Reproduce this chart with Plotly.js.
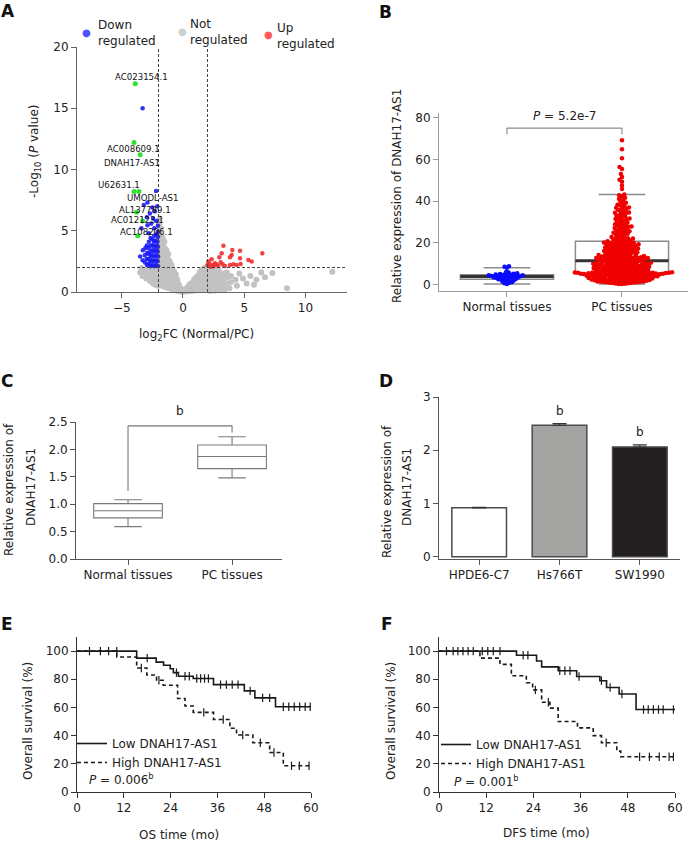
<!DOCTYPE html>
<html><head><meta charset="utf-8">
<script src="https://cdn.plot.ly/plotly-3.0.1.min.js"></script>
<style>html,body{margin:0;padding:0;background:#fff}#chart{width:700px;height:848px}</style>
</head><body><div id="chart"></div>
<script>
// ================= DATA =================
// Panel A: volcano plot (log2FC, -log10 P)
const greyX = [-3.5,-3.4,-3.3,-3.2,-3.1,-3.0,-2.9,-2.8,-2.75,-2.7,-2.6,-2.55,-2.5,-2.45,-2.4,-2.35,-2.3,-2.25,-2.2,-2.15,-2.1,-2.05,-2.05,
 -1.95,-1.92,-1.97,-1.94,-1.96,-1.93,-1.95,-1.91,-1.94,-1.9,
 -1.82,-1.8,-1.84,-1.81,-1.83,-1.79,-1.82,-1.78,-1.8,
 -1.68,-1.66,-1.7,-1.67,-1.65,-1.69,-1.64,-1.66,
 -1.53,-1.51,-1.55,-1.52,-1.5,-1.54,-1.49,-1.52,
 -1.38,-1.36,-1.4,-1.37,-1.35,-1.39,-1.36,
 -1.22,-1.2,-1.24,-1.21,-1.19,-1.23,-1.2,
 -1.07,-1.05,-1.09,-1.06,-1.04,-1.08,
 -0.92,-0.9,-0.94,-0.91,-0.89,-0.93,
 -0.77,-0.75,-0.79,-0.76,-0.74,
 -0.62,-0.6,-0.64,-0.61,-0.59,
 -0.47,-0.45,-0.49,-0.46,
 -0.32,-0.3,-0.34,
 -0.17,-0.15,
 0.0,
 0.15,0.17,0.3,0.32,0.45,0.43,0.47,0.6,0.62,0.58,0.75,0.73,0.77,0.9,0.92,0.88,0.91,1.05,1.03,1.07,1.04,1.2,1.22,1.18,1.21,1.35,1.33,1.37,1.34,1.36,1.5,1.52,1.48,1.51,1.49,1.65,1.63,1.67,1.64,1.66,1.8,1.82,1.78,1.81,1.79,1.95,1.93,1.97,1.94,1.96,
 2.1,2.12,2.08,2.11,2.09,2.3,2.32,2.28,2.31,2.29,2.5,2.52,2.48,2.51,2.7,2.72,2.68,2.71,2.9,2.92,2.88,2.91,3.1,3.12,3.08,3.35,3.37,3.33,3.6,3.62,3.58,3.9,3.92,2.2,2.6,3.0,3.4,3.8,
 4.3,4.6,4.9,5.2,5.5,6.0,6.4,6.7,7.3,8.5,12.2,4.4,5.8];
const greyY = [1.6,1.95,1.3,1.8,1.45,1.1,1.5,1.9,1.6,0.9,1.3,1.95,1.7,0.7,1.0,1.5,1.9,0.6,0.85,1.2,1.6,1.95,0.5,
 0.7,1.3,1.9,2.5,3.1,3.7,4.3,4.9,5.5,6.0,
 0.55,1.1,1.65,2.2,2.8,3.4,4.0,4.6,5.2,
 0.5,1.0,1.5,2.05,2.6,3.2,3.8,4.4,
 0.42,0.92,1.4,1.9,2.45,3.0,3.6,4.1,
 0.38,0.85,1.3,1.8,2.3,2.85,3.4,
 0.33,0.78,1.25,1.7,2.2,2.7,3.1,
 0.3,0.7,1.12,1.55,2.0,2.5,
 0.25,0.64,1.05,1.45,1.9,2.2,
 0.2,0.56,0.92,1.3,1.7,
 0.15,0.5,0.85,1.2,1.45,
 0.1,0.4,0.7,1.0,
 0.08,0.35,0.62,
 0.05,0.26,
 0.03,
 0.05,0.2,0.06,0.32,0.07,0.3,0.52,0.1,0.36,0.65,0.1,0.42,0.76,0.12,0.46,0.8,1.02,0.15,0.5,0.86,1.16,0.16,0.52,0.9,1.3,0.2,0.56,0.95,1.35,1.6,0.22,0.6,1.0,1.44,1.8,0.25,0.62,1.02,1.42,1.86,0.26,0.66,1.06,1.5,1.95,0.3,0.7,1.1,1.55,1.96,
 0.3,0.7,1.1,1.5,1.9,0.35,0.75,1.15,1.6,1.92,0.4,0.8,1.2,1.7,0.45,0.85,1.3,1.75,0.5,0.95,1.4,1.8,0.55,1.0,1.45,0.6,1.1,1.5,0.7,1.2,1.6,0.8,1.3,0.08,0.1,0.15,0.2,0.3,
 1.0,1.5,1.1,0.7,1.3,1.0,1.6,1.2,1.55,0.3,1.65,0.5,0.6];
const downX = [-2.2,-2.9,-3.2,-2.5,-2.95,-2.45,-2.9,-2.15,-3.3,-2.7,-2.3,-3.4,-2.6,-2.05,-2.35,-2.1,-2.8,
 -2.04,-2.07,-2.03,-2.06,-2.05,-2.08,-2.04,-2.06,
 -2.2,-2.22,-2.18,-2.21,-2.19,-2.23,-2.2,
 -2.35,-2.37,-2.33,-2.36,-2.34,-2.38,-2.35,
 -2.5,-2.52,-2.48,-2.51,-2.49,-2.5,
 -2.65,-2.67,-2.63,-2.66,-2.64,-2.65,
 -2.8,-2.82,-2.78,-2.81,-2.79,
 -2.95,-2.97,-2.93,-2.96,
 -3.1,-3.12,-3.08,
 -3.3,-3.28,
 -3.5];
const downY = [8.25,7.3,7.1,6.9,6.1,6.0,5.45,5.8,15.0,6.4,6.6,5.2,5.6,5.4,5.2,7.0,4.8,
 2.1,2.5,2.9,3.3,3.7,4.1,4.5,4.9,
 2.2,2.6,3.0,3.4,3.8,4.2,4.7,
 2.1,2.5,2.9,3.3,3.7,4.1,4.6,
 2.2,2.6,3.0,3.4,3.8,4.3,
 2.1,2.5,2.9,3.3,3.8,4.4,
 2.3,2.7,3.1,3.6,4.1,
 2.2,2.7,3.2,3.8,
 2.4,3.0,3.6,
 2.6,3.4,
 2.9];
const upX = [3.3,4.03,4.66,6.48,3.16,3.98,3.84,2.97,4.66,5.34,5.61,2.34,2.07,2.61,3.08,3.24,2.2,2.48,2.75,3.84,4.11,4.71,4.39,2.0,2.88,3.43,2.29,2.5];
const upY = [3.78,3.43,3.37,3.16,3.16,3.02,2.83,2.83,2.75,2.61,2.48,2.67,2.48,2.34,2.42,2.26,2.26,2.2,2.25,2.2,2.26,2.28,2.2,2.2,2.12,2.12,2.06,2.1];
const geneNames = ['AC023154.1','AC008609.1','DNAH17-AS1','U62631.1','UMODL-AS1','AL137789.1','AC012123.1','AC108206.1'];
const geneX = [-3.9,-4.0,-3.5,-4.0,-3.6,-3.8,-3.3,-3.7];
const geneY = [17.0,12.2,11.2,8.2,8.2,6.5,5.8,4.6];
const fcCut = 2, pCut = 2;

// Panel B: expression in tissues
const bCats = ['Normal tissues','PC tissues'];
const normalTissue = [8.9,8.6,8.1,6.2,5.8,5.5,5.3,5.1,5.0,4.9,4.8,4.7,4.6,4.5,4.5,4.4,4.3,4.2,4.1,4.0,3.9,3.8,3.7,3.6,3.5,3.4,3.3,3.1,3.0,2.8,2.6,2.5,2.4,2.2,2.0,1.8,1.5,1.2,1.0,0.7,0.4];
const pcTissue = [
 0.3,0.4,0.5,0.6,0.7,0.8,0.9,1.0,1.1,1.2,1.3,1.4,1.5,1.5,1.6,1.7,1.8,1.9,2.0,2.1,
 2.1,2.2,2.3,2.4,2.5,2.5,2.6,2.7,2.8,2.9,2.9,3.0,3.1,3.2,3.2,3.3,3.4,3.5,3.5,3.6,
 3.7,3.7,3.8,3.9,3.9,4.0,4.1,4.1,4.2,4.3,4.3,4.4,4.5,4.5,4.6,4.6,4.7,4.8,4.8,4.9,
 4.9,5.0,5.0,5.1,5.1,5.2,5.2,5.3,5.3,5.4,5.4,5.5,5.5,1.9,2.7,3.4,4.0,4.7,2.3,1.2,
 5.6,5.6,5.7,5.7,5.8,5.8,5.9,5.6,5.7,5.8,5.9,6.0,6.0,6.1,6.2,6.3,6.4,6.5,6.5,6.6,
 6.7,6.8,6.9,7.0,7.0,7.1,7.2,7.3,7.4,7.5,7.5,7.6,7.7,7.8,7.9,8.0,8.0,8.1,8.2,8.3,
 8.4,8.5,8.5,8.6,8.7,8.8,8.9,9.0,9.0,9.1,9.2,9.3,9.4,9.5,9.5,9.6,9.7,9.8,9.9,10.0,
 10.0,10.1,10.2,10.3,10.4,10.5,10.5,10.6,10.7,10.8,10.9,11.0,6.3,8.2,9.6,
 11.1,11.2,11.3,11.4,11.5,11.6,11.7,11.8,11.9,12.0,12.1,12.2,12.3,12.4,12.5,12.6,12.7,12.8,12.9,13.0,
 13.1,13.2,13.3,13.4,13.5,13.6,13.7,13.8,13.9,14.0,14.2,14.4,14.5,14.6,14.8,15.0,15.1,15.2,15.4,15.5,
 15.6,15.8,16.0,16.1,16.2,16.4,16.5,16.6,16.8,17.0,17.1,17.2,17.4,17.5,17.6,17.8,18.0,18.1,18.2,18.4,
 18.5,18.6,18.8,19.0,19.1,19.2,19.4,19.5,19.6,19.8,20.0,20.1,20.2,20.4,20.5,20.6,11.5,12.2,12.8,13.5,
 14.1,15.3,16.7,18.3,19.7,
 20.8,21.0,21.2,21.5,21.7,21.9,22.1,22.3,22.6,22.9,23.2,23.5,23.8,24.1,24.4,24.7,25.0,25.3,25.6,25.9,
 26.2,26.5,26.8,27.1,27.4,27.7,28.0,28.3,28.6,28.9,29.2,29.5,29.8,22.0,24.9,27.9,
 30.2,30.6,31.0,31.3,31.7,32.0,32.4,32.8,33.1,33.5,33.9,34.2,34.6,35.0,35.4,35.8,36.2,36.6,37.0,37.4,
 37.9,38.3,38.8,39.2,39.7,31.5,34.4,36.9,
 40.4,41.0,41.6,42.2,42.8,43.2,
 45.8,47.5,49.3,50.2,51.6,53.0,55.4,56.3,60.6,64.9,69.2];
const bPText = '<i>P</i> = 5.2e-7';
const bBracketLow = 72, bBracketTop = 75;

// Panel C: box summary
const cCats = ['Normal tissues','PC tissues'];
const cLow = [0.59,1.48], cQ1 = [0.75,1.65], cMed = [0.88,1.87], cQ3 = [1.01,2.08], cHigh = [1.08,2.23];
const cBracket = {left:1.24, top:2.43, right:2.31, label:'b'};

// Panel D: cell lines
const dCats = ['HPDE6-C7','Hs766T','SW1990'];
const dVals = [0.92,2.47,2.06];
const dErr = [0.01,0.03,0.04];
const dSig = ['','b','b'];
const dColors = ['#ffffff','#a3a3a1','#231f20'];

// Panel E: OS Kaplan-Meier
const eLowT = [0,15.3,20.3,22.2,23.9,24.7,26.0,29.8,35.0,42.9,45.6,50.9,60];
const eLowS = [100,95,92.2,89.9,87.5,84.7,82.1,80.5,76.2,71.8,66.8,60.5,60.5];
const eHighT = [0,10.2,15.3,17.9,20.4,22.1,25.8,27.7,29.8,35.0,39.2,40.9,45.1,49.4,52.9,60];
const eHighS = [100,95.8,88,83,79.3,75.8,66.4,61,56.5,51.5,45.2,40.5,35,28,18.6,18.6];
const eLowCens = [3.2,6.0,8.1,10.2,18.0,25.5,27.7,28.8,30.7,31.7,32.7,33.7,36.8,38.3,39.8,41.3,44.4,47.6,49.4,52.9,54.3,55.7,57.1,58.5,59.8];
const eHighCens = [16.5,21.0,32.5,37.5,42.5,47.0,50.5,55.0,57.0,59.5];
const eP = '<i>P</i> = 0.006<sup>b</sup>';

// Panel F: DFS Kaplan-Meier
const fLowT = [0,19.7,24.8,26.1,30.3,35.0,40.9,42.6,45.8,50.1,60];
const fLowS = [100,97,93,88.8,86,82,79,74.2,69.6,58.5,58.5];
const fHighT = [0,10.4,15.5,18.4,22.2,23.8,26.1,28.2,30.3,35.2,39.2,41.3,45.2,46.2,60];
const fHighS = [100,95,90.6,82.5,77.5,72.5,63.7,59.5,50,45.5,40,35,29,25,25];
const fLowCens = [1.9,3.6,4.8,6.1,7.4,8.7,11.0,12.4,13.8,15.5,21.4,22.6,30.7,32.0,33.3,35.6,41.3,43.5,46.5,52.0,53.2,54.5,55.8,57.0,59.6];
const fHighCens = [24.5,27.8,42.5,51.0,53.5,56.0,58.5,59.6];
const fP = '<i>P</i> = 0.001<sup>b</sup>';

// ================= LAYOUT HELPERS =================
const W = 700, H = 848;
const FONT = '"DejaVu Sans", Verdana, sans-serif';
const px = v => v / W, py = v => 1 - v / H;
const dom = (x0, x1, y0, y1) => ({x: [px(x0), px(x1)], y: [py(y1), py(y0)], w: x1 - x0, h: y1 - y0});
const DA = dom(77, 347, 47, 292), DB = dom(439, 688, 113, 291), DC = dom(76, 282, 422, 559),
      DD = dom(439, 680, 397, 559), DE = dom(77, 311, 637, 792), DF = dom(439, 675, 637, 792);
const bXRange = [-0.591, 1.574], bYRange = [-3, 82.2];
const tickFont = {family: FONT, size: 12, color: '#222'};
function axis(extra, col) {
  col = col || '#555';
  return Object.assign({showgrid: false, zeroline: false, showline: true, linecolor: col, linewidth: 1,
    ticks: 'outside', ticklen: 5, tickcolor: col, tickwidth: 1, tickfont: tickFont, fixedrange: true}, extra);
}
function survAt(ts, ss, t) { let s = ss[0]; for (let i = 0; i < ts.length; i++) if (ts[i] <= t) s = ss[i]; return s; }
function median(arr) { const s = arr.slice().sort((a, b) => a - b); const n = s.length; return n % 2 ? s[(n - 1) / 2] : (s[n / 2 - 1] + s[n / 2]) / 2; }
// beeswarm layout: horizontal offsets (in axis units) so that dot centres stay at least d px apart
function swarmOffsets(values, d, pxPerX, pxPerY) {
  const order = values.map((v, i) => i).sort((a, b) => values[a] - values[b]);
  const placed = [], offs = new Array(values.length);
  order.forEach(i => {
    const y = values[i] * pxPerY, forb = [];
    placed.forEach(p => { const dy = Math.abs(p.y - y); if (dy < d) { const w = Math.sqrt(d * d - dy * dy); forb.push([p.x - w, p.x + w]); } });
    const cands = [0]; forb.forEach(f => cands.push(f[0], f[1]));
    cands.sort((a, b) => Math.abs(a) - Math.abs(b));
    let best = 0;
    for (const c of cands) { if (forb.every(f => c <= f[0] + 1e-6 || c >= f[1] - 1e-6)) { best = c; break; } }
    placed.push({x: best, y: y});
    offs[i] = best / pxPerX;
  });
  return offs;
}

// ================= TRACES =================
const traces = [];
const transparent = 'rgba(0,0,0,0)';
// A
traces.push({type: 'scatter', mode: 'markers', x: greyX, y: greyY, xaxis: 'x', yaxis: 'y', cliponaxis: false,
  marker: {size: 6, color: '#c2c2c2'}, showlegend: false, hoverinfo: 'skip'});
traces.push({type: 'scatter', mode: 'markers', x: downX, y: downY, xaxis: 'x', yaxis: 'y',
  marker: {size: 4.5, color: 'rgba(25,25,245,0.9)'}, showlegend: false, hoverinfo: 'skip'});
traces.push({type: 'scatter', mode: 'markers', x: upX, y: upY, xaxis: 'x', yaxis: 'y',
  marker: {size: 4.5, color: 'rgba(238,45,45,0.9)'}, showlegend: false, hoverinfo: 'skip'});
traces.push({type: 'scatter', mode: 'markers', x: geneX, y: geneY, xaxis: 'x', yaxis: 'y',
  marker: {size: 5, color: '#2fe02f'}, showlegend: false, hoverinfo: 'skip'});

// B
const boxB = (vals, pos) => ({type: 'box', x: vals.map(() => pos), y: vals, xaxis: 'x2', yaxis: 'y2',
  boxpoints: 'outliers', marker: {color: transparent, size: 1}, width: 0.81, whiskerwidth: 0.5,
  line: {color: '#8c8c8c', width: 1.5}, fillcolor: transparent, showlegend: false, hoverinfo: 'skip'});
traces.push(boxB(normalTissue, 0));
traces.push(boxB(pcTissue, 1));
const bMeds = [median(normalTissue), median(pcTissue)];
traces.push({type: 'box', x: [0, 1], q1: bMeds, median: bMeds, q3: bMeds, lowerfence: bMeds, upperfence: bMeds,
  xaxis: 'x2', yaxis: 'y2', width: 0.81, whiskerwidth: 0, boxpoints: false, line: {color: '#333', width: 3}, fillcolor: transparent, showlegend: false, hoverinfo: 'skip'});
const bPxX = DB.w / (bXRange[1] - bXRange[0]), bPxY = DB.h / (bYRange[1] - bYRange[0]);
const nOff = swarmOffsets(normalTissue, 2.6, bPxX, bPxY);
const pOff = swarmOffsets(pcTissue, 3.1, bPxX, bPxY);
traces.push({type: 'scatter', mode: 'markers', x: nOff.map(o => 0 + o), y: normalTissue, xaxis: 'x2', yaxis: 'y2', cliponaxis: false,
  marker: {size: 4.5, color: '#0a0aff'}, showlegend: false, hoverinfo: 'skip'});
traces.push({type: 'scatter', mode: 'markers', x: pOff.map(o => 1 + o), y: pcTissue, xaxis: 'x2', yaxis: 'y2', cliponaxis: false,
  marker: {size: 4.5, color: '#f00000'}, showlegend: false, hoverinfo: 'skip'});

// C
traces.push({type: 'box', x: cCats, q1: cQ1, median: cMed, q3: cQ3, lowerfence: cLow, upperfence: cHigh,
  xaxis: 'x3', yaxis: 'y3', width: 0.66, whiskerwidth: 0.4, boxpoints: false,
  line: {color: '#7a7a7a', width: 1.1}, fillcolor: transparent, showlegend: false, hoverinfo: 'skip'});

// D
traces.push({type: 'bar', x: dCats, y: dVals, xaxis: 'x4', yaxis: 'y4', width: 0.68,
  marker: {color: dColors, line: {color: '#4a4a4a', width: 1.5}},
  error_y: {type: 'data', symmetric: false, array: dErr, arrayminus: dErr.map(() => 0), color: '#333', thickness: 1.2, width: 7},
  showlegend: false, hoverinfo: 'skip'});

// E, F
function km(t, s, xa, ya, name, dash, leg) {
  return {type: 'scatter', mode: 'lines', x: t, y: s, xaxis: xa, yaxis: ya, name: name, legend: leg,
    line: {shape: 'hv', color: '#1a1a1a', width: 1.6, dash: dash}, showlegend: true, hoverinfo: 'skip'};
}
function cens(c, t, s, xa, ya) {
  return {type: 'scatter', mode: 'markers', x: c, y: c.map(v => survAt(t, s, v)), xaxis: xa, yaxis: ya, cliponaxis: false,
    marker: {symbol: 'line-ns-open', size: 6, color: '#1a1a1a', line: {color: '#1a1a1a', width: 1.2}}, showlegend: false, hoverinfo: 'skip'};
}
traces.push(km(eLowT, eLowS, 'x5', 'y5', 'Low DNAH17-AS1', 'solid', 'legend2'));
traces.push(km(eHighT, eHighS, 'x5', 'y5', 'High DNAH17-AS1', '4px,3px', 'legend2'));
traces.push(cens(eLowCens, eLowT, eLowS, 'x5', 'y5'));
traces.push(cens(eHighCens, eHighT, eHighS, 'x5', 'y5'));
traces.push(km(fLowT, fLowS, 'x6', 'y6', 'Low DNAH17-AS1', 'solid', 'legend3'));
traces.push(km(fHighT, fHighS, 'x6', 'y6', 'High DNAH17-AS1', '4px,3px', 'legend3'));
traces.push(cens(fLowCens, fLowT, fLowS, 'x6', 'y6'));
traces.push(cens(fHighCens, fHighT, fHighS, 'x6', 'y6'));

// ================= ANNOTATIONS & SHAPES =================
const ann = [];
const txt = (text, x, y, opt) => Object.assign({text: text, x: px(x), y: py(y), xref: 'paper', yref: 'paper', showarrow: false,
  xanchor: 'center', yanchor: 'middle', font: {family: FONT, size: 12, color: '#222'}}, opt || {});
// panel letters
[['A', 7.5, 11], ['B', 386, 12], ['C', 6.5, 381], ['D', 386, 381], ['E', 7, 624], ['F', 386.5, 624]].forEach(l =>
  ann.push(txt('<b>' + l[0] + '</b>', l[1], l[2], {font: {family: FONT, size: 17, color: '#111'}})));
// A legend
ann.push(txt('●', 86, 33, {font: {family: FONT, size: 10, color: '#5050ff'}}));
ann.push(txt('Down<br>regulated', 96, 33, {xanchor: 'left', align: 'left'}));
ann.push(txt('●', 182.5, 32, {font: {family: FONT, size: 10, color: '#cfcfcf'}}));
ann.push(txt('Not<br>regulated', 188, 32, {xanchor: 'left', align: 'left'}));
ann.push(txt('●', 268, 34.5, {font: {family: FONT, size: 10, color: '#ff5a5a'}}));
ann.push(txt('Up<br>regulated', 275, 36, {xanchor: 'left', align: 'left'}));
// A gene labels
const geneLabelShift = [[6, 7], [-1, -6.5], [-8.5, -8], [-15.5, 6.5], [14, -6.5], [8.5, 2.4], [-5, 1], [8.3, 3.6]];
geneNames.forEach((g, i) => ann.push({text: g, x: geneX[i], y: geneY[i], xref: 'x', yref: 'y', showarrow: false,
  xshift: geneLabelShift[i][0], yshift: geneLabelShift[i][1], font: {family: FONT, size: 8.6, color: '#111'}}));
// axis titles
ann.push(txt('-Log<sub>10</sub> (<i>P</i> value)', 35, 152, {textangle: -90}));
ann.push(txt('log<sub>2</sub>FC (Normal/PC)', 196, 335));
ann.push(txt('Relative expression of DNAH17-AS1', 397, 196, {textangle: -90}));
ann.push(txt('Relative expression of', 9, 490, {textangle: -90}));
ann.push(txt('DNAH17-AS1', 31, 487, {textangle: -90}));
ann.push(txt('Relative expression of', 387, 492, {textangle: -90}));
ann.push(txt('DNAH17-AS1', 407, 487, {textangle: -90}));
ann.push(txt('Overall survival (%)', 28, 721, {textangle: -90}));
ann.push(txt('OS time (mo)', 178.5, 835));
ann.push(txt('Overall survival (%)', 391, 721, {textangle: -90}));
ann.push(txt('DFS time (mo)', 546, 833));
// significance texts
ann.push({text: bPText, x: 0.5, y: bBracketTop, xref: 'x2', yref: 'y2', yanchor: 'bottom', yshift: 3, showarrow: false,
  font: {family: FONT, size: 12, color: '#222'}});
ann.push({text: cBracket.label, x: 0.5, y: cBracket.top, xref: 'x3', yref: 'y3', yanchor: 'bottom', yshift: 6, showarrow: false,
  font: {family: FONT, size: 12, color: '#222'}});
dSig.forEach((s, i) => { if (s) ann.push({text: s, x: i, y: dVals[i] + dErr[i], xref: 'x4', yref: 'y4', yanchor: 'bottom', yshift: 4,
  showarrow: false, font: {family: FONT, size: 12, color: '#222'}}); });
ann.push(txt(eP, 87, 779, {xanchor: 'left'}));
ann.push(txt(fP, 452, 781, {xanchor: 'left'}));

const shapes = [];
const dashLine = {color: '#444', width: 1, dash: '3px,2px'};
shapes.push({type: 'line', xref: 'x', yref: 'y domain', x0: -fcCut, x1: -fcCut, y0: 0, y1: 1, line: dashLine});
shapes.push({type: 'line', xref: 'x', yref: 'y domain', x0: fcCut, x1: fcCut, y0: 0, y1: 1, line: dashLine});
shapes.push({type: 'line', xref: 'x domain', yref: 'y', x0: 0, x1: 1, y0: pCut, y1: pCut, line: dashLine});
const bl = {color: '#8c8c8c', width: 1.2};
shapes.push({type: 'line', xref: 'x2', yref: 'y2', x0: 0, x1: 0, y0: bBracketLow, y1: bBracketTop, line: bl});
shapes.push({type: 'line', xref: 'x2', yref: 'y2', x0: 0, x1: 1, y0: bBracketTop, y1: bBracketTop, line: bl});
shapes.push({type: 'line', xref: 'x2', yref: 'y2', x0: 1, x1: 1, y0: bBracketTop, y1: bBracketLow, line: bl});
const cl = {color: '#777', width: 1.1};
shapes.push({type: 'line', xref: 'x3', yref: 'y3', x0: 0, x1: 0, y0: cBracket.left, y1: cBracket.top, line: cl});
shapes.push({type: 'line', xref: 'x3', yref: 'y3', x0: 0, x1: 1, y0: cBracket.top, y1: cBracket.top, line: cl});
shapes.push({type: 'line', xref: 'x3', yref: 'y3', x0: 1, x1: 1, y0: cBracket.top, y1: cBracket.right, line: cl});

// ================= LAYOUT =================
const legendBase = {xanchor: 'left', yanchor: 'top', bgcolor: transparent, borderwidth: 0,
  font: {family: FONT, size: 12, color: '#222'}, tracegroupgap: 0, orientation: 'v'};
const layout = {
  width: W, height: H, margin: {l: 0, r: 0, t: 0, b: 0}, paper_bgcolor: '#fff', plot_bgcolor: '#fff',
  font: {family: FONT, size: 12, color: '#222'}, showlegend: true, hovermode: false,
  boxmode: 'overlay',
  xaxis: axis({domain: DA.x, anchor: 'y', range: [-8.66, 13.4], tickvals: [-5, 0, 5, 10]}, '#666'),
  yaxis: axis({domain: DA.y, anchor: 'x', range: [0, 20], tickvals: [0, 5, 10, 15, 20]}, '#666'),
  xaxis2: axis({domain: DB.x, anchor: 'y2', range: bXRange, tickvals: [0, 1], ticktext: bCats}, '#9a9a9a'),
  yaxis2: axis({domain: DB.y, anchor: 'x2', range: bYRange, tickvals: [0, 20, 40, 60, 80]}, '#9a9a9a'),
  xaxis3: axis({domain: DC.x, anchor: 'y3', type: 'category', categoryorder: 'array', categoryarray: cCats, range: [-0.5, 1.48]}),
  yaxis3: axis({domain: DC.y, anchor: 'x3', range: [0, 2.5], tickvals: [0, 0.5, 1, 1.5, 2, 2.5], tickformat: '.1f'}),
  xaxis4: axis({domain: DD.x, anchor: 'y4', type: 'category', categoryorder: 'array', categoryarray: dCats, range: [-0.5, 2.5]}),
  yaxis4: axis({domain: DD.y, anchor: 'x4', range: [-0.04, 3], tickvals: [0, 1, 2, 3]}),
  xaxis5: axis({domain: DE.x, anchor: 'y5', range: [0, 60], tickvals: [0, 12, 24, 36, 48, 60]}, '#333'),
  yaxis5: axis({domain: DE.y, anchor: 'x5', range: [0, 110], tickvals: [0, 20, 40, 60, 80, 100]}, '#333'),
  xaxis6: axis({domain: DF.x, anchor: 'y6', range: [0, 60], tickvals: [0, 12, 24, 36, 48, 60]}, '#333'),
  yaxis6: axis({domain: DF.y, anchor: 'x6', range: [0, 110], tickvals: [0, 20, 40, 60, 80, 100]}, '#333'),
  legend2: Object.assign({x: px(72), y: py(729)}, legendBase),
  legend3: Object.assign({x: px(436), y: py(730)}, legendBase),
  annotations: ann,
  shapes: shapes
};
Plotly.newPlot('chart', traces, layout, {staticPlot: true, displayModeBar: false});
</script>
</body></html>
